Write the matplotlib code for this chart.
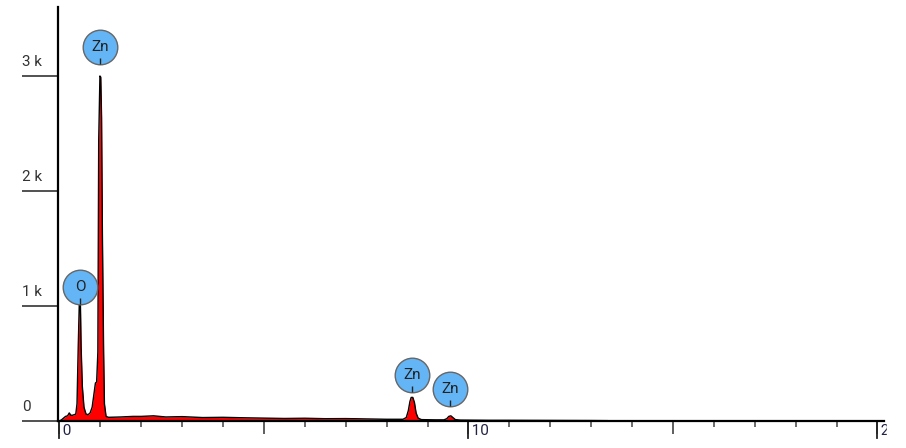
import numpy as np
import matplotlib
matplotlib.use("Agg")
import matplotlib.pyplot as plt
from matplotlib import transforms
from matplotlib.patches import Rectangle

plt.rcParams['font.family'] = ['Roboto', 'DejaVu Sans']

# spectrum (energy in keV, counts)
energy_kev = [0.00, 0.05, 0.10, 0.15, 0.20, 0.24, 0.28, 0.32, 0.36, 0.40, 0.43,
              0.46, 0.49, 0.51, 0.53, 0.56, 0.60, 0.65, 0.70, 0.75, 0.80, 0.85,
              0.88, 0.91, 0.94, 0.96, 0.99, 1.01, 1.03, 1.05, 1.08, 1.10, 1.14,
              1.20, 1.50, 1.80, 2.00, 2.30, 2.60, 3.00, 3.50, 4.00, 4.50, 5.00,
              5.50, 6.00, 6.50, 7.00, 7.50, 8.00, 8.30, 8.40, 8.48, 8.53, 8.57,
              8.60, 8.64, 8.68, 8.72, 8.77, 8.85, 9.20, 9.40, 9.47, 9.52, 9.57,
              9.62, 9.68, 9.80, 10.5, 11.0, 12.0, 13.0, 13.4]
counts = [0, 10, 25, 40, 45, 70, 50, 50, 55, 60, 150,
          650, 1080, 1080, 640, 300, 120, 60, 55, 70, 120, 250,
          330, 340, 600, 2430, 3000, 2990, 2640, 1640, 600, 150, 40,
          32, 35, 40, 40, 45, 35, 38, 30, 32, 28, 25,
          22, 24, 20, 21, 18, 15, 15, 15, 30, 90, 170,
          205, 205, 160, 70, 25, 12, 10, 10, 20, 40, 45,
          30, 12, 8, 6, 6, 5, 4, 3]

# element markers
label_text = ["O", "Zn", "Zn", "Zn"]
label_energy = [0.50, 1.00, 8.63, 9.56]
label_counts = [1165, 3252, 400, 278]

y_ticks = [0, 1000, 2000, 3000]
y_tick_labels = ["0", "1 k", "2 k", "3 k"]
x_major = [0, 10, 20]
x_mid = [5, 15]
x_minor = [1, 2, 3, 4, 6, 7, 8, 9, 11, 12, 13, 14, 16, 17, 18, 19]

W, H = 906, 448
fig = plt.figure(figsize=(W / 100, H / 100), dpi=100)
ax = fig.add_axes([58 / W, 27 / H, (884 - 58) / W, (421 - 7) / H])

ax.fill_between(energy_kev, counts, 0, color="#ff0000", lw=0, zorder=2)
ax.plot(energy_kev, counts, color="black", lw=1.0, zorder=3)

ax.set_xlim(-0.035, 20.16)
ax.set_ylim(0, 3600)

for s in ["top", "right"]:
    ax.spines[s].set_visible(False)
ax.spines["left"].set_linewidth(1.6)
ax.spines["bottom"].set_linewidth(1.6)
ax.spines["left"].set_zorder(4)
ax.spines["bottom"].set_zorder(4)

ax.set_yticks(y_ticks)
ax.set_yticklabels([])
ax.tick_params(axis="y", length=26, width=1.2, color="#333333")
ybl = transforms.blended_transform_factory(fig.transFigure, ax.transData)
lift = transforms.ScaledTranslation(0, 7 / 100, fig.dpi_scale_trans)
for v, lab in zip(y_ticks, y_tick_labels):
    ax.text(22 / W, v, lab, transform=ybl + lift, ha="left", va="bottom",
            fontsize=11, color="#333333")

ax.set_xticks(x_major + x_mid)
ax.set_xticks(x_minor, minor=True)
ax.set_xticklabels([])
ax.tick_params(axis="x", which="major", length=9, width=1.1, color="#333333")
ax.tick_params(axis="x", which="minor", length=4, width=1.1, color="#444444")

xbl = transforms.blended_transform_factory(ax.transData, ax.transAxes)
for v in x_major:
    ax.plot([v, v], [0, -17 / 414], transform=xbl, color="#222222",
            lw=1.3, clip_on=False)
    ax.text(v, -3 / 414, " " + str(v), transform=xbl, ha="left", va="top",
            fontsize=11, color="#222244")

for txt, e, c in zip(label_text, label_energy, label_counts):
    ax.scatter([e], [c], s=620, color="#64b5f6", edgecolor="#666666",
               lw=1.0, zorder=6, clip_on=False)
    ax.text(e, c, txt, ha="center", va="center", fontsize=11,
            color="#222222", zorder=7)
    tick_tr = transforms.offset_copy(ax.transData, fig=fig, y=-14, units="dots")
    ax.plot([e], [c], marker="|", ms=4.5, mew=1.0, color="#222222",
            transform=tick_tr, zorder=7)

# the reference image is cut off just right of the axis end
fig.patches.append(Rectangle((887 / W, 0), 1, 1, transform=fig.transFigure,
                             color="white", zorder=10))

fig.savefig("out.png", dpi=100)
